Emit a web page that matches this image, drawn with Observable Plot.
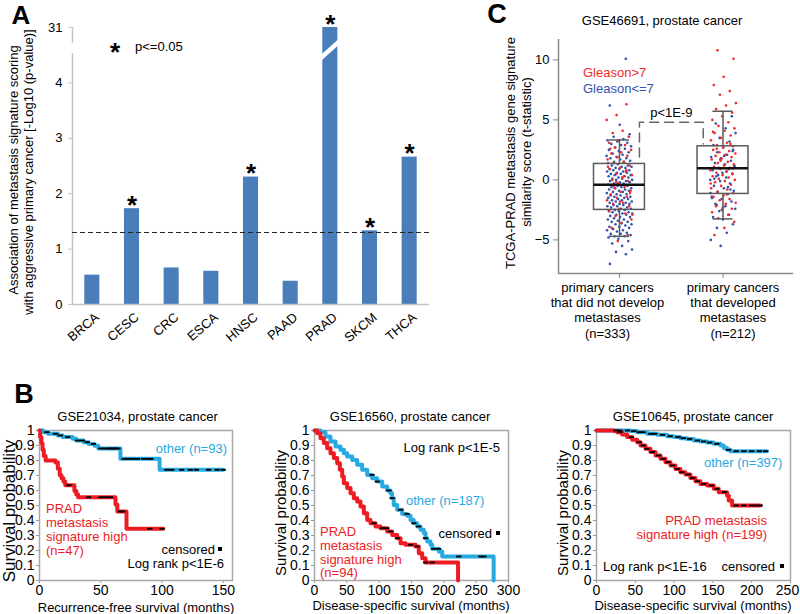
<!DOCTYPE html>
<html><head><meta charset="utf-8">
<script src="https://cdn.jsdelivr.net/npm/d3@7"></script>
<script src="https://cdn.jsdelivr.net/npm/@observablehq/plot@0.6"></script>
<style>
body{margin:0;background:#fff;}
#root{position:relative;width:800px;height:614px;overflow:hidden;font-family:"Liberation Sans",Arial,Helvetica,sans-serif;color:#000;background:#fff;}
.lbl{position:absolute;white-space:pre;line-height:1;}
#root svg{position:absolute;overflow:visible;}
.sq{position:absolute;width:4px;height:4px;background:#000;}
</style></head><body><div id="root"></div>
<script>
// ---------------- DATA ----------------
// Panel A
const cancers = ["BRCA","CESC","CRC","ESCA","HNSC","PAAD","PRAD","SKCM","THCA"];
const negLogP = [0.53, 1.73, 0.66, 0.60, 2.30, 0.42, 31, 1.33, 2.66];
const significant = [false, true, false, false, true, false, true, true, true];
const sigThreshold = 1.3;
const yTicksA = [0, 1, 2, 3, 4, 31];

// Panel C
const groupLabelLines = [
  ["primary cancers", "that did not develop", "metastases", "(n=333)"],
  ["primary cancers", "that developed", "metastases", "(n=212)"]
];
const yTicksC = [-5, 0, 5, 10];
const boxLow = [-4.7, -3.25];
const boxQ1 = [-2.5, -1.17];
const boxMedian = [-0.4, 0.97];
const boxQ3 = [1.33, 2.8];
const boxHigh = [3.33, 5.72];
const bracket = [[0.193, 1.9], [0.193, 4.8], [0.809, 4.8], [0.809, 3.0]];
const g1GleasonLow = [-7.0,-6.2,-6.0,-5.8,-5.5,-5.3,-5.1,-4.9,-4.8,-4.7,-4.7,-4.6,-4.5,-4.5,-4.4,-4.3,-4.2,-4.2,-4.1,-4.0,-3.9,-3.9,-3.8,-3.7,-3.7,-3.6,-3.5,-3.5,-3.4,-3.3,-3.3,-3.2,-3.1,-3.1,-3.0,-2.9,-2.9,-2.8,-2.8,-2.7,-2.7,-2.6,-2.6,-2.5,-2.5,
  -2.4,-2.4,-2.3,-2.3,-2.2,-2.2,-2.1,-2.1,-2.0,-2.0,-1.9,-1.9,-1.8,-1.8,-1.7,-1.7,-1.6,-1.6,-1.5,-1.5,-1.4,-1.4,-1.3,-1.3,-1.2,-1.2,-1.1,-1.0,-1.0,-0.9,-0.9,-0.8,-0.8,-0.7,-0.7,-0.6,-0.6,-0.5,-0.5,-0.4,
  -0.3,-0.3,-0.2,-0.2,-0.1,-0.1,0.0,0.0,0.1,0.1,0.2,0.2,0.3,0.3,0.4,0.4,0.5,0.5,0.6,0.6,0.7,0.7,0.8,0.8,0.9,0.9,1.0,1.0,1.1,1.1,1.2,1.2,1.3,
  1.4,1.5,1.5,1.6,1.7,1.8,1.8,1.9,2.0,2.1,2.2,2.3,2.4,2.5,2.6,2.7,2.8,2.9,3.0,3.1,3.2,3.3,3.4,3.6,3.8,4.6,6.2,10.1];
const g1GleasonHigh = [6.3,5.4,5.0,4.1,3.9,3.6,3.3,3.1,2.9,2.7,2.5,2.3,2.2,2.0,1.9,1.7,1.5,1.4,1.2,1.0,0.9,0.7,0.5,0.4,0.2,0.0,-0.1,-0.3,-0.4,-0.6,-0.7,-0.9,-1.0,-1.2,-1.4,-1.5,-1.7,-1.9,-2.0,-2.2,-2.4,-2.6,-2.8,-3.0,-3.3,-3.6,-4.0,-4.6,-5.1,1.1,0.3,-0.5,-1.1,-1.8,2.6,0.8,-0.2,-2.9];
const g2GleasonLow = [-5.5,-5.0,-4.4,-4.0,-3.7,-3.3,-3.1,-2.9,-2.6,-2.4,-2.2,-2.0,-1.8,-1.6,-1.4,-1.2,-1.0,-0.9,-0.7,-0.5,-0.3,-0.1,0.0,0.2,0.3,0.5,0.6,0.8,0.9,1.0,1.1,1.3,1.4,1.6,1.8,1.9,2.1,2.3,2.5,2.7,2.9,3.2,3.5,3.9,4.3,4.7,5.3,-2.5,-1.5,-0.6,0.4,1.2,2.0,0.1,-0.8,1.7,-1.1,0.7,-2.1,2.4];
const g2GleasonHigh = [10.8,10.1,8.6,7.9,7.4,7.1,6.4,6.2,5.9,5.6,5.3,5.0,4.8,4.5,4.3,4.1,3.9,3.7,3.5,3.3,3.1,2.9,2.8,2.7,2.5,2.4,2.3,2.2,2.1,2.0,1.9,1.8,1.7,1.5,1.4,1.3,1.2,1.1,1.0,0.9,0.8,0.7,0.6,0.5,0.4,0.3,0.2,0.1,0.0,-0.1,-0.2,-0.4,-0.5,-0.7,-0.8,-1.0,-1.1,-1.3,-1.4,-1.6,-1.7,-1.9,-2.0,-2.2,-2.4,-2.5,-2.7,-2.9,-3.2,-3.5,-4.0,-4.6,3.0,1.6,-0.3,-1.2,2.6,0.95,-2.3,4.0];

// Panel B: Kaplan-Meier curves [months, survival]
const km21034Other = [[0,1],[3,0.989],[7,0.978],[15,0.967],[19,0.956],[27,0.945],[30,0.933],[36,0.922],[40,0.91],[45,0.899],[48,0.88],[66,0.811],[98,0.738],[150,0.738]];
const km21034High = [[0,1],[0.5,0.957],[1.5,0.915],[2.5,0.872],[3.5,0.83],[5,0.8],[13,0.787],[15,0.745],[16.5,0.702],[18,0.681],[19.5,0.66],[21,0.635],[28.5,0.596],[30,0.574],[31.5,0.555],[62,0.506],[63.5,0.46],[71,0.345],[101,0.345]];
const cens21034Other = [6,13,17,23,31,35,39,44,50,53,56,58,60,62,64,69,72,76,80,85,89,91,104,108,116,123,128,138,145,150];
const cens21034High = [24,40,50,52,55,58,66,68,90,100];

const km16560Other = [[0,1],[9.3,0.99],[17,0.96],[24.7,0.927],[32.5,0.893],[40.2,0.871],[45.4,0.849],[50.5,0.827],[58.3,0.804],[66,0.771],[73.7,0.738],[81.5,0.704],[89.2,0.682],[96.9,0.66],[104.7,0.627],[112.4,0.6],[117.5,0.582],[120,0.549],[122.6,0.504],[127.9,0.471],[135.6,0.444],[143.3,0.431],[148.5,0.404],[153.5,0.382],[158.8,0.36],[163.9,0.338],[169,0.316],[171.7,0.282],[174.3,0.26],[179.4,0.238],[182,0.211],[192.2,0.193],[197.5,0.16],[277,0.16],[277,0]];
const km16560High = [[0,1],[4.1,0.982],[9.3,0.949],[14.4,0.916],[19.6,0.882],[24.7,0.849],[29.9,0.816],[35.1,0.782],[39.2,0.738],[42.8,0.693],[45.4,0.649],[50.5,0.616],[55.7,0.582],[60.8,0.549],[66,0.527],[71.1,0.493],[76.3,0.449],[81.5,0.404],[86.6,0.382],[94.3,0.36],[102,0.349],[112.4,0.327],[120.1,0.304],[127.9,0.282],[133,0.249],[140.7,0.238],[156.2,0.227],[161.3,0.182],[166.5,0.149],[171.7,0.12],[222,0.12],[222,0]];
const cens16560Other = [89,97,115,120,133,143,153.5,161,171.7,184.5,192,223,257,262];
const cens16560High = [92,105,112,117.5,128,148.5,159,171.7,182];

const km10645Other = [[0,1],[43.8,0.996],[52.4,0.989],[65.2,0.978],[78.1,0.971],[91,0.962],[99.6,0.956],[108.2,0.949],[116.7,0.944],[125.3,0.933],[133.9,0.927],[142.5,0.92],[151.1,0.911],[159.7,0.9],[164,0.884],[168.2,0.871],[172.5,0.862],[219.7,0.862]];
const km10645High = [[0,1],[22.3,0.996],[26.6,0.989],[33,0.973],[39.5,0.956],[45.9,0.938],[52.4,0.922],[56.7,0.9],[63.1,0.878],[69.5,0.856],[76,0.833],[82.4,0.811],[88.8,0.789],[95.3,0.767],[101.7,0.744],[108.2,0.722],[114.6,0.707],[121,0.684],[127.5,0.662],[133.9,0.644],[142.5,0.633],[151.1,0.611],[157.5,0.589],[168.2,0.567],[170.4,0.533],[174.7,0.5],[211.2,0.5]];
const cens10645Other = [25,30,40,48,55,60,70,75,85,95,105,112,120,130,138,146,155,170,180,190,200,210,218];
const cens10645High = [30,45,55,60,65,72,80,86,92,98,104,110,118,124,130,138,148,155,165,180,190,200,205,211];

const yTicksB = [0,0.1,0.2,0.3,0.4,0.5,0.6,0.7,0.8,0.9,1];

// ---------------- RENDER ----------------
const FONT = '"Liberation Sans", Arial, Helvetica, sans-serif';
const RED = "#ed1c24", CYAN = "#27aae1", BAR = "#4a7ebb";
const DOT_RED = "#ee2a2a", DOT_BLUE = "#2f52ad";
const root = document.getElementById("root");

function label(txt, x, y, o = {}) {
  const d = document.createElement("div");
  d.className = "lbl";
  d.textContent = txt;
  d.style.fontSize = (o.size || 13) + "px";
  if (o.color) d.style.color = o.color;
  if (o.bold) d.style.fontWeight = "bold";
  d.style.left = x + "px";
  d.style.top = y + "px";
  const ax = o.anchor === "start" ? "0" : o.anchor === "end" ? "-100%" : "-50%";
  d.style.transform = `translate(${ax},-50%)` + (o.rotate ? ` rotate(${o.rotate}deg)` : "");
  root.appendChild(d);
}
function square(x, y) {
  const d = document.createElement("div");
  d.className = "sq";
  d.style.left = (x - 2) + "px";
  d.style.top = (y - 2) + "px";
  root.appendChild(d);
}
function place(svg, left, top, tickColor) {
  svg.style.left = left + "px";
  svg.style.top = top + "px";
  if (tickColor) {
    svg.querySelectorAll('g[aria-label$="tick"]').forEach(g => g.setAttribute("stroke", tickColor));
    svg.querySelectorAll('g[aria-label$="-axis"] .tick line').forEach(l => l.setAttribute("stroke", tickColor));
  }
  root.appendChild(svg);
}
const style = size => ({fontFamily: FONT, fontSize: size + "px", background: "transparent", color: "#000", overflow: "visible"});

// ---- Panel A ----
const axisBreak = [4.53, 4.71];
const topDisplay = 5;
const disp = v => v > axisBreak[0] ? topDisplay : v;
const barData = cancers.map((name, i) => ({name, i, v: negLogP[i], sig: significant[i]}));

const plotA = Plot.plot({
  width: 430, height: 350,
  marginLeft: 72, marginRight: 1, marginTop: 27, marginBottom: 46,
  x: {domain: [-0.5, cancers.length - 0.5], axis: null},
  y: {domain: [0, topDisplay], axis: null},
  style: style(13),
  marks: [
    Plot.rect(barData, {x1: d => d.i - 0.19, x2: d => d.i + 0.19, y1: 0, y2: d => disp(d.v), fill: BAR}),
    Plot.link(barData.filter(d => d.v > axisBreak[0]), {x1: d => d.i - 0.24, x2: d => d.i + 0.24, y1: axisBreak[0] - 0.08, y2: axisBreak[1] + 0.05, stroke: "#fff", strokeWidth: 4.5}),
    Plot.ruleY([0], {stroke: "#c4c4c4", strokeWidth: 1.5}),
    Plot.ruleX([[0, axisBreak[0]], [axisBreak[1], topDisplay]], {x: -0.5, y1: d => d[0], y2: d => d[1], stroke: "#c4c4c4", strokeWidth: 1.5}),
    Plot.ruleY(yTicksA, {y: disp, x1: -0.6, x2: -0.5, stroke: "#c4c4c4"}),
    Plot.text(yTicksA, {y: disp, x: -0.5, dx: -10, text: d => String(d), textAnchor: "end", fontSize: 13}),
    Plot.ruleY([sigThreshold], {stroke: "#222", strokeDasharray: "5,3"}),
    Plot.text(barData.filter(d => d.sig), {x: d => d.i, y: d => disp(d.v), text: () => "*", dy: -3, fontSize: 26, fontWeight: "bold"}),
    Plot.text(barData, {x: d => d.i, y: 0, text: d => d.name, rotate: -40, textAnchor: "end", dx: 5, dy: 11, fontSize: 13})
  ]
});
place(plotA, 0, 0);

label("A", 21, 15, {size: 26, bold: true});
label("Association of metastasis signature scoring", 13, 170, {rotate: -90});
label("with aggressive primary cancer [-Log10 (p-value)]", 28, 172, {rotate: -90});
label("*", 115, 52, {size: 26, bold: true});
label("p<=0.05", 135, 46, {anchor: "start"});

// ---- Panel C ----
const xDomC = [-0.589, 1.681], yDomC = [-7.8, 11.7];
const labelNudgeC = [-12, 10];
const boxStats = boxLow.map((lo, g) => ({g, lo, q1: boxQ1[g], med: boxMedian[g], q3: boxQ3[g], hi: boxHigh[g]}));
function pts(arr, g, seed) { return arr.map((v, k) => ({g, v, k, seed})); }
const jit = d => d.g + (((d.k * 0.618034 + d.seed) % 1) - 0.5) * 0.25;
const lowPts = [...pts(g1GleasonLow, 0, 0.13), ...pts(g2GleasonLow, 1, 0.41)];
const highPts = [...pts(g1GleasonHigh, 0, 0.77), ...pts(g2GleasonHigh, 1, 0.29)];
const BOX = "#5a5a5a";

const groupLabelMarks = [];
[0, 1].forEach(g => [0, 1, 2, 3].forEach(k => groupLabelMarks.push(
  Plot.text([g], {x: d => d, y: yDomC[0], text: d => groupLabelLines[d][k], dx: labelNudgeC[g], dy: 14 + 15.3 * k, fontSize: 13})
)));

const plotC = Plot.plot({
  width: 370, height: 350,
  marginLeft: 128, marginRight: 7, marginTop: 39, marginBottom: 77,
  x: {domain: xDomC, ticks: [0, 1], tickFormat: () => "", tickSize: 5, label: null},
  y: {domain: yDomC, ticks: yTicksC, tickSize: 5, tickPadding: 4, label: null},
  style: style(13),
  marks: [
    Plot.ruleX([xDomC[0]], {stroke: "#888", strokeWidth: 1.5}),
    Plot.ruleY([yDomC[0]], {stroke: "#888", strokeWidth: 1.5}),
    Plot.dot(lowPts, {x: jit, y: "v", r: 1.3, fill: DOT_BLUE, stroke: "none"}),
    Plot.dot(highPts, {x: jit, y: "v", r: 1.3, fill: DOT_RED, stroke: "none"}),
    Plot.rect(boxStats, {x1: d => d.g - 0.246, x2: d => d.g + 0.246, y1: "q1", y2: "q3", fill: "none", stroke: BOX, strokeWidth: 1.5}),
    Plot.ruleX(boxStats, {x: "g", y1: "q3", y2: "hi", stroke: BOX, strokeWidth: 1.5}),
    Plot.ruleX(boxStats, {x: "g", y1: "lo", y2: "q1", stroke: BOX, strokeWidth: 1.5}),
    Plot.ruleY(boxStats, {y: "hi", x1: d => d.g - 0.097, x2: d => d.g + 0.097, stroke: BOX, strokeWidth: 1.5}),
    Plot.ruleY(boxStats, {y: "lo", x1: d => d.g - 0.097, x2: d => d.g + 0.097, stroke: BOX, strokeWidth: 1.5}),
    Plot.ruleY(boxStats, {y: "med", x1: d => d.g - 0.246, x2: d => d.g + 0.246, stroke: "#111", strokeWidth: 2.5}),
    Plot.line(bracket, {x: d => d[0], y: d => d[1], stroke: "#666", strokeWidth: 1.5, strokeDasharray: "9,6"}),
    Plot.text(["p<1E-9"], {x: (bracket[1][0] + bracket[2][0]) / 2, y: bracket[1][1], dy: -9, text: d => d, fontSize: 13}),
    ...groupLabelMarks
  ]
});
place(plotC, 430, 0, "#888");

label("C", 497, 14, {size: 27, bold: true});
label("GSE46691, prostate cancer", 662, 20);
label("TCGA-PRAD metastasis gene signature", 510, 153, {rotate: -90});
label("similarity score (t-statistic)", 526, 152, {rotate: -90});
label("Gleason>7", 583, 72, {anchor: "start", color: DOT_RED});
label("Gleason<=7", 583, 88, {anchor: "start", color: DOT_BLUE});

// ---- Panel B ----
const censorDash = {draw(ctx) { ctx.rect(-2.6, -0.9, 5.2, 1.8); }};
function survAt(curve, t) {
  let s = curve[0][1];
  for (const [tt, ss] of curve) { if (tt <= t) s = ss; else break; }
  return s;
}
function kmPlot({left, width, mL, mR, xMax, xTicks, curves, lastTickNudge}) {
  const marks = [Plot.frame({stroke: "#a8a8a8", strokeWidth: 1.5})];
  for (const c of curves) {
    marks.push(Plot.line(c.data, {x: d => d[0], y: d => d[1], curve: "step-after", stroke: c.color, strokeWidth: 4}));
  }
  for (const c of curves) {
    marks.push(Plot.dot(c.censor, {x: d => d, y: d => survAt(c.data, d), symbol: censorDash, fill: "#000", stroke: "none"}));
  }
  const p = Plot.plot({
    width, height: 214,
    marginLeft: mL, marginRight: mR, marginTop: 30, marginBottom: 34,
    x: {domain: [0, xMax], ticks: xTicks, tickSize: 3, tickPadding: 2, label: null},
    y: {domain: [0, 1], ticks: yTicksB, tickSize: 3, tickPadding: 2, label: null, tickFormat: d => String(d)},
    style: style(14),
    marks
  });
  if (lastTickNudge) {
    const t = p.querySelectorAll('g[aria-label="x-axis tick label"] text, g[aria-label="x-axis"] .tick text');
    if (t.length) t[t.length - 1].setAttribute("dx", lastTickNudge);
  }
  place(p, left, 400, "#999");
}

kmPlot({left: 0, width: 265, mL: 39, mR: 33, xMax: 157.5, xTicks: [0, 50, 100, 150],
  curves: [{data: km21034Other, censor: cens21034Other, color: CYAN}, {data: km21034High, censor: cens21034High, color: RED}]});
kmPlot({left: 265, width: 270, mL: 49, mR: 27, xMax: 300, xTicks: [0, 50, 100, 150, 200, 250, 300],
  curves: [{data: km16560Other, censor: cens16560Other, color: CYAN}, {data: km16560High, censor: cens16560High, color: RED}]});
kmPlot({left: 535, width: 265, mL: 61, mR: 10, xMax: 250, xTicks: [0, 50, 100, 150, 200, 250], lastTickNudge: -3,
  curves: [{data: km10645Other, censor: cens10645Other, color: CYAN}, {data: km10645High, censor: cens10645High, color: RED}]});

label("B", 24, 394, {size: 27, bold: true});
// plot 1
label("GSE21034, prostate cancer", 137.5, 416);
label("Recurrence-free survival (months)", 136, 607);
label("Survival probability", 9, 511, {rotate: -90, size: 17});
label("other (n=93)", 227, 448, {anchor: "end", color: CYAN});
["PRAD", "metastasis", "signature high", "(n=47)"].forEach((t, k) => label(t, 46, 508 + 14 * k, {anchor: "start", color: RED}));
label("censored", 215, 549, {anchor: "end"}); square(220, 549);
label("Log rank p<1E-6", 224, 563, {anchor: "end"});
// plot 2
label("GSE16560, prostate cancer", 410, 416);
label("Disease-specific survival (months)", 411, 605);
label("Survival probability", 280, 513, {rotate: -90, size: 15});
label("Log rank p<1E-5", 500, 447, {anchor: "end"});
label("other (n=187)", 406, 500, {anchor: "start", color: CYAN});
label("censored", 492, 533, {anchor: "end"}); square(498, 533);
["PRAD", "metastasis", "signature high", "(n=94)"].forEach((t, k) => label(t, 320, 531 + 13.8 * k, {anchor: "start", color: RED}));
// plot 3
label("GSE10645, prostate cancer", 693, 416);
label("Disease-specific survival (months)", 693, 605);
label("Survival probability", 562, 513, {rotate: -90, size: 15});
label("other (n=397)", 704, 462, {anchor: "start", color: CYAN});
label("PRAD metastasis", 767, 520, {anchor: "end", color: RED});
label("signature high (n=199)", 767, 533.5, {anchor: "end", color: RED});
label("Log rank p<1E-16", 603, 566, {anchor: "start"});
label("censored", 775, 566, {anchor: "end"}); square(782, 566);
</script></body></html>
